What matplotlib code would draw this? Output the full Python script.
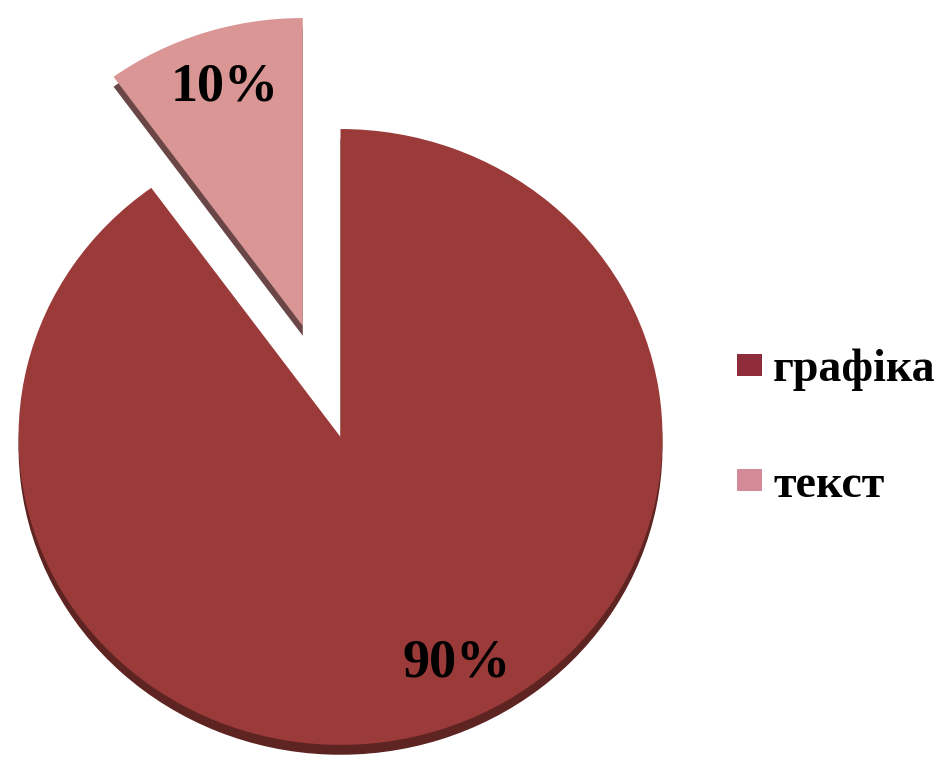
import matplotlib
matplotlib.use('Agg')
import matplotlib.pyplot as plt
from matplotlib.patches import Patch

plt.rcParams['font.family'] = ['Liberation Serif', 'DejaVu Serif']

labels = ['графіка', 'текст']
shares = [90, 10]
colors = ['#9a3a39', '#d99695']
side_colors = ['#5e2422', '#6a4646']
legend_colors = ['#8e2c3c', '#d58a98']
explode = [0, 0.379]

fig = plt.figure(figsize=(9.52, 7.64), dpi=100)
ax = fig.add_axes([0, 0, 1, 1])

# darker copy underneath gives the slices some depth
ax.pie(shares, startangle=90, counterclock=False, explode=explode,
       colors=side_colors, center=(0, -0.032),
       wedgeprops=dict(linewidth=0))

wedges, _, autotexts = ax.pie(shares, startangle=90, counterclock=False,
                              explode=explode, colors=colors,
                              autopct='%d%%',
                              wedgeprops=dict(linewidth=0),
                              textprops=dict(fontsize=39, fontweight='bold',
                                             color='black'))

autotexts[0].set_position((0.362, -0.737))
autotexts[1].set_position((-0.360, 1.135))

# pie forces equal aspect; the chart is slightly flattened
ax.set_aspect('auto')
ax.set_xlim(-1.0575, 1.899)
ax.set_ylim(-1.062, 1.419)
ax.axis('off')

handles = [Patch(facecolor=c, edgecolor='none') for c in legend_colors]
fig.legend(handles, labels, loc='center left', bbox_to_anchor=(0.774, 0.44),
           frameon=False, borderaxespad=0, borderpad=0,
           handlelength=0.55, handleheight=0.37, handletextpad=0.24,
           labelspacing=1.6, prop=dict(size=33, weight='bold'))

plt.savefig('out.png', dpi=100, facecolor='white')
